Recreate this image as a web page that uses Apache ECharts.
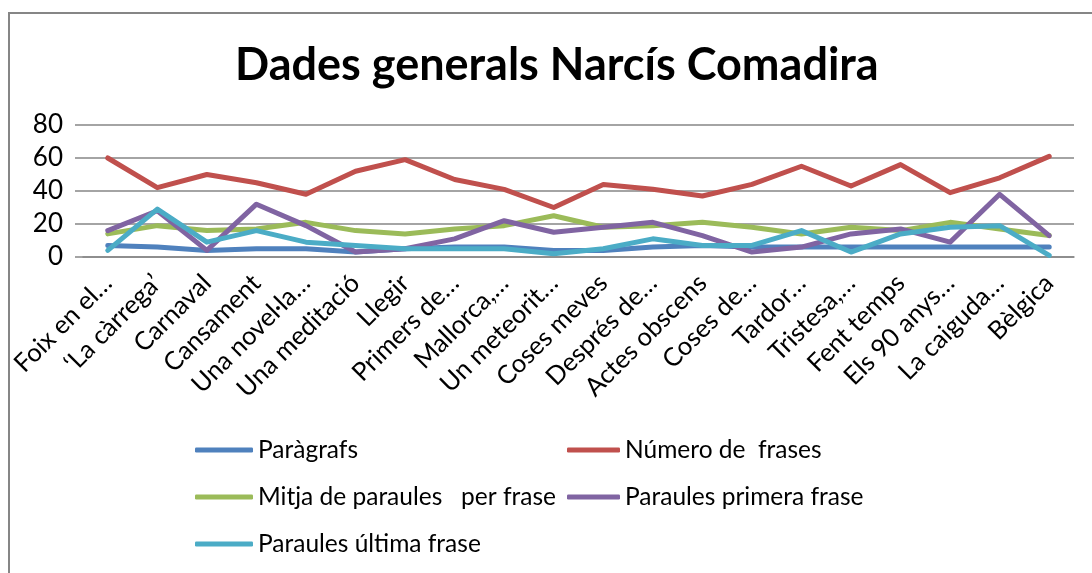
<!DOCTYPE html>
<html>
<head>
<meta charset="utf-8">
<script src="https://cdn.jsdelivr.net/npm/echarts@6/dist/echarts.min.js"></script>
<style>
    html, body { margin: 0; padding: 0; background: #fff; }
    #frame {
        position: absolute; left: 8px; top: 12px; width: 1200px; height: 700px;
        border-left: 2px solid #868686; border-top: 2px solid #868686;
    }
    #chart { position: absolute; left: 0; top: 0; width: 1092px; height: 573px; }
</style>
</head>
<body>
<div id="frame"></div>
<div id="chart"></div>
<script>
// poemes
var categories = ['Foix en el…', '‘La càrrega’', 'Carnaval', 'Cansament', 'Una novel·la…',
    'Una meditació', 'Llegir', 'Primers de…', 'Mallorca,…', 'Un meteorit…', 'Coses meves',
    'Després de…', 'Actes obscens', 'Coses de…', 'Tardor…', 'Tristesa,…', 'Fent temps',
    'Els 90 anys…', 'La caiguda…', 'Bèlgica'];

var paragrafs = [7, 6, 4, 5, 5, 3, 5, 6, 6, 4, 4, 6, 7, 6, 6, 6, 6, 6, 6, 6];
var numFrases = [60, 42, 50, 45, 38, 52, 59, 47, 41, 30, 44, 41, 37, 44, 55, 43, 56, 39, 48, 61];
var mitjaParaules = [14, 19, 16, 17, 21, 16, 14, 17, 19, 25, 18, 19, 21, 18, 14, 18, 16, 21, 17, 13];
var primeraFrase = [16, 28, 4, 32, 19, 3, 5, 11, 22, 15, 18, 21, 13, 3, 6, 14, 17, 9, 38, 13];
var ultimaFrase = [4, 29, 9, 16, 9, 7, 5, 5, 5, 2, 5, 11, 7, 7, 16, 3, 14, 18, 19, 1];

var yTicks = [0, 20, 40, 60, 80];

var font = 'Lato';
var grey = '#868686';

function serie(name, data, color) {
    return {
        name: name,
        type: 'line',
        data: data,
        symbol: 'none',
        lineStyle: {width: 5, color: color, cap: 'round', join: 'round'},
        itemStyle: {color: color}
    };
}

var legendText = {fontFamily: font, fontSize: 24.5, color: '#000', lineHeight: 30};

var chart = echarts.init(document.getElementById('chart'));
var option = {
    animation: false,
    textStyle: {fontFamily: font},
    title: {
        text: 'Dades generals Narcís Comadira',
        left: 230,
        top: 38,
        textStyle: {fontFamily: font, fontSize: 45, fontWeight: 'bold', color: '#000'}
    },
    grid: {left: 83, right: 18, top: 125, bottom: 316},
    legend: [
        {
            data: ['Paràgrafs', 'Mitja de paraules   per frase', 'Paraules última frase'],
            orient: 'vertical',
            left: 195,
            top: 435,
            padding: 0,
            itemGap: 17,
            itemWidth: 58,
            itemHeight: 5,
            icon: 'roundRect',
            textStyle: legendText
        },
        {
            data: ['Número de  frases', 'Paraules primera frase'],
            orient: 'vertical',
            left: 567,
            top: 435,
            padding: 0,
            itemGap: 17,
            itemWidth: 53,
            itemHeight: 5,
            icon: 'roundRect',
            textStyle: legendText
        }
    ],
    xAxis: {
        type: 'category',
        data: categories,
        boundaryGap: true,
        axisLine: {lineStyle: {color: grey, width: 1.5}},
        axisTick: {length: 8, lineStyle: {color: grey, width: 1.5}},
        axisLabel: {
            interval: 0,
            rotate: 45,
            margin: 22,
            color: '#000',
            fontFamily: font,
            fontSize: 25.5
        }
    },
    yAxis: {
        type: 'value',
        min: yTicks[0],
        max: yTicks[yTicks.length - 1],
        interval: 20,
        axisLine: {show: false},
        axisTick: {show: true, length: 8, lineStyle: {color: grey, width: 1.5}},
        splitLine: {lineStyle: {color: grey, width: 1.5}},
        axisLabel: {margin: 20, color: '#000', fontFamily: font, fontSize: 26}
    },
    series: [
        serie('Paràgrafs', paragrafs, '#4F81BD'),
        serie('Número de  frases', numFrases, '#C0504D'),
        serie('Mitja de paraules   per frase', mitjaParaules, '#9BBB59'),
        serie('Paraules primera frase', primeraFrase, '#8064A2'),
        serie('Paraules última frase', ultimaFrase, '#4BACC6')
    ]
};
chart.setOption(option);
</script>
</body>
</html>
